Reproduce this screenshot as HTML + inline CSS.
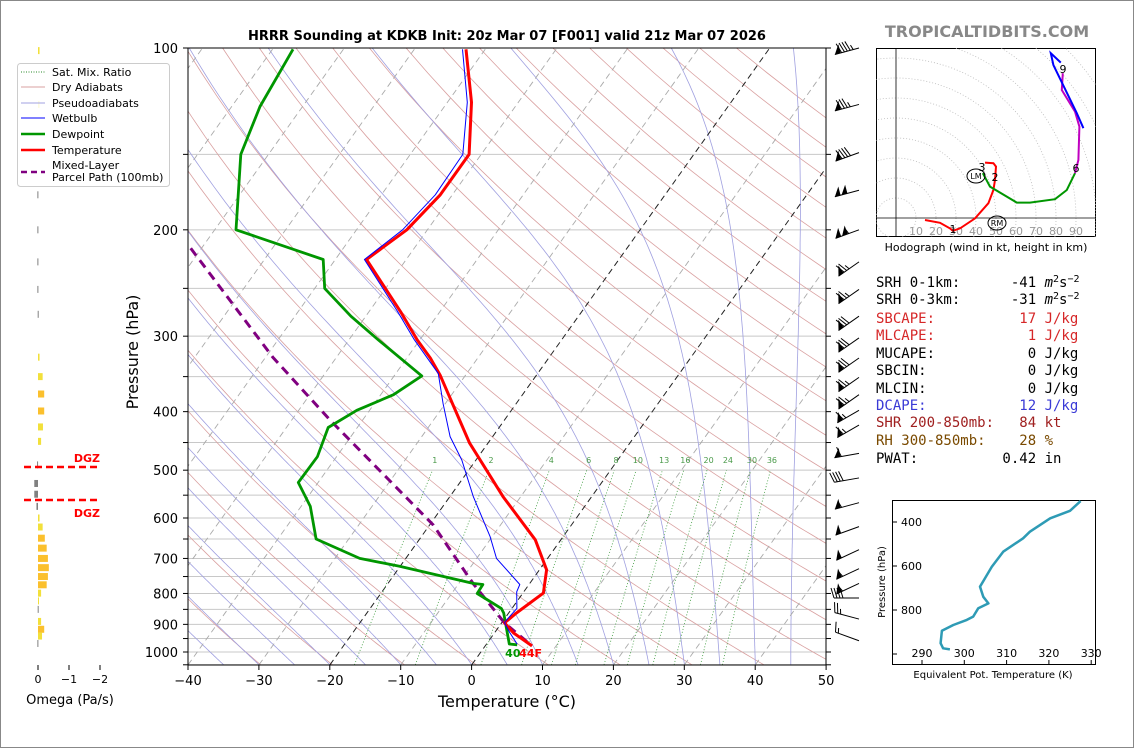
<!DOCTYPE html>
<html><head><meta charset="utf-8">
<style>
html,body{margin:0;padding:0;background:#fff;}
svg{display:block;font-family:"DejaVu Sans","Liberation Sans",sans-serif;}
.mono text{white-space:pre;}
</style></head>
<body>
<svg id="chart" xmlns="http://www.w3.org/2000/svg" width="1134" height="748" viewBox="0 0 1134 748">
<rect x="0.5" y="0.5" width="1133" height="747" fill="#fff" stroke="#888"/>
<defs>
<clipPath id="mainclip"><rect x="188" y="48" width="638" height="617"/></clipPath>
<clipPath id="hodoclip"><rect x="876" y="48" width="220" height="189"/></clipPath>
<clipPath id="eclip"><rect x="892" y="500" width="204" height="165"/></clipPath>
</defs>
<text x="507" y="40" text-anchor="middle" font-size="13" font-weight="bold">HRRR Sounding at KDKB Init: 20z Mar 07 [F001] valid 21z Mar 07 2026</text>
<text x="987" y="37" text-anchor="middle" font-size="16" font-weight="bold" fill="#888">TROPICALTIDBITS.COM</text>
<g id="bg" clip-path="url(#mainclip)"></g>
<g id="series" clip-path="url(#mainclip)"></g>
<g id="axes"></g>
<g id="barbs"></g>
<g id="omega"></g>
<g id="hodo"></g>
<g id="thetae"></g>
<text x="142" y="356" transform="rotate(-90 138 356)" text-anchor="middle" font-size="16">Pressure (hPa)</text>
<text x="507" y="707" text-anchor="middle" font-size="16">Temperature (°C)</text>
<text x="70" y="704" text-anchor="middle" font-size="13">Omega (Pa/s)</text>
<g>
<rect x="17.5" y="63.5" width="152" height="123" rx="3" fill="#fff" fill-opacity="0.85" stroke="#ccc"/>
<line x1="21" y1="72" x2="45" y2="72" stroke="#2a8a2a" stroke-dasharray="1,1.5"/>
<text x="52" y="76" font-size="11">Sat. Mix. Ratio</text>
<line x1="21" y1="87" x2="45" y2="87" stroke="#d9a0a0"/>
<text x="52" y="91" font-size="11">Dry Adiabats</text>
<line x1="21" y1="103" x2="45" y2="103" stroke="#a0a0e0"/>
<text x="52" y="107" font-size="11">Pseudoadiabats</text>
<line x1="21" y1="118" x2="45" y2="118" stroke="#0000ff"/>
<text x="52" y="122" font-size="11">Wetbulb</text>
<line x1="21" y1="134" x2="45" y2="134" stroke="#009600" stroke-width="2.5"/>
<text x="52" y="138" font-size="11">Dewpoint</text>
<line x1="21" y1="150" x2="45" y2="150" stroke="#ff0000" stroke-width="2.5"/>
<text x="52" y="154" font-size="11">Temperature</text>
<line x1="21" y1="172" x2="45" y2="172" stroke="#800080" stroke-width="2.5" stroke-dasharray="6,4"/>
<text x="52" y="169" font-size="11">Mixed-Layer</text>
<text x="52" y="181" font-size="11">Parcel Path (100mb)</text>
</g>
<g class="mono" font-family="'DejaVu Sans Mono','Liberation Mono',monospace" font-size="14">
<text x="876" y="287">SRH 0-1km:      -41 <tspan font-style="italic">m</tspan><tspan font-size="10" dy="-5">2</tspan><tspan dy="5">s</tspan><tspan font-size="10" dy="-5">−2</tspan></text>
<text x="876" y="304">SRH 0-3km:      -31 <tspan font-style="italic">m</tspan><tspan font-size="10" dy="-5">2</tspan><tspan dy="5">s</tspan><tspan font-size="10" dy="-5">−2</tspan></text>
<text x="876" y="323" fill="#d62728">SBCAPE:          17 J/kg</text>
<text x="876" y="340" fill="#d62728">MLCAPE:           1 J/kg</text>
<text x="876" y="358">MUCAPE:           0 J/kg</text>
<text x="876" y="375">SBCIN:            0 J/kg</text>
<text x="876" y="393">MLCIN:            0 J/kg</text>
<text x="876" y="410" fill="#3a3ad6">DCAPE:           12 J/kg</text>
<text x="876" y="427" fill="#a02020">SHR 200-850mb:   84 kt</text>
<text x="876" y="445" fill="#7a4a00">RH 300-850mb:    28 %</text>
<text x="876" y="463">PWAT:          0.42 in</text>
</g>
</svg>
<script>
// ---- data ----
const tempP=[100.5,123,150,175,200,224,273,304,326,348,451,553,652,731,799,862,895,930,977];
const tempT=[-62.7,-56.6,-51.7,-51.7,-52.9,-55.6,-45.6,-40.4,-36.7,-33.6,-22.6,-12.5,-3.6,1.0,2.9,1.1,0.4,2.7,6.6];
const dewP=[100.5,125,150,200,224,250,278,304,349,375,398,425,475,524,574,650,700,721,770,773,800,847,862,970,973];
const dewT=[-87.1,-86,-83.9,-77,-61.7,-58.6,-52.1,-45.9,-36.1,-38.2,-41.8,-44.1,-42.7,-42.8,-38.7,-34.6,-26.5,-20.1,-8,-6.5,-6.4,-1.5,-0.7,3.2,4.4];
const wetP=[100.5,123,150,175,200,224,273,304,346,388,440,481,553,644,700,773,795,847,885,895,930,970];
const wetT=[-63.2,-57.2,-52.6,-52.4,-53.5,-55.9,-46,-40.8,-34,-30.3,-26,-22,-16.7,-10.3,-7.2,-1.3,-1,0.7,0.4,0.4,2.2,4.3];
const parcelP=[205,325,413,616,770,895,977];
const parcelT=[-84,-59,-44.6,-19.5,-8,0.4,6.6];
const pressureTicks=[100,200,300,400,500,600,700,800,900,1000];
const tempTicks=[-40,-30,-20,-10,0,10,20,30,40,50];
const mixRatios=[1,2,4,6,8,10,13,16,20,24,30,36];
const barbP=[100,124,149,172,200,226,251,278,302,326,351,375,398,421,469,515,566,620,677,728,770,814,882,958];
const barbSpd=[95,85,90,100,105,75,75,80,80,80,75,75,65,65,60,40,55,50,50,55,55,40,25,15];
const barbDir=[255,255,250,255,250,235,235,235,235,235,235,235,240,240,260,260,255,250,245,245,245,270,285,290];
const omegaP=[101,124,175,200,226,251,276,325,350,374,399,424,448,490,526,548,574,600,621,648,673,700,725,750,774,799,823,850,890,917,941,968];
const omegaV=[-0.05,-0.05,0.02,0.02,0.02,0.02,0.01,-0.05,-0.15,-0.2,-0.2,-0.16,-0.1,0.03,0.12,0.12,0.05,-0.05,-0.15,-0.22,-0.28,-0.32,-0.35,-0.32,-0.28,-0.1,-0.03,0.01,-0.1,-0.2,-0.13,0.02];
const hodoRedU=[14.5,22,27,28.4,32,39.5,46.2,48.7,49.5,50,48.7,44.5];
const hodoRedV=[-1,-2.4,-5.2,-6.4,-5.2,-0.2,7.4,14,19,25.7,27.4,27.7];
const hodoGreenU=[43.4,47,60.4,67,79.5,85.4,89.5];
const hodoGreenV=[22.4,15.7,7.7,7.7,9.4,14,22.4];
const hodoMagU=[89.5,91.2,91.7,89.5,82.9,83.4];
const hodoMagV=[22.4,29,45.7,53.2,64,72.4];
const hodoBlueU=[93.7,90.4,78.7,77.4,82.4];
const hodoBlueV=[44.9,52.4,76.5,82.4,77.7];
const hodoTickLabels=[10,20,30,40,50,60,70,80,90];
const thetaeP=[305,349,383,444,474,535,603,656,694,740,770,792,830,845,868,894,951,974,979];
const thetaeV=[327.5,325,320.3,315.5,313.9,309.2,306.5,304.9,303.7,304.5,305.7,303.3,302.1,300.6,297.4,294.7,294.4,295,296.6];
const thetaeXTicks=[290,300,310,320,330];
const thetaeYTicks=[400,600,800];

// ---- scales ----
function yP(p){return 48+604*Math.log10(p/100);}
function xT(T,p){return 188+(T+40)*7.09+0.713*(665-yP(p));}
function hx(u){return 896+2*u;}
function hy(v){return 218-2*v;}
function ex(t){return 922+(t-290)*4.23;}
function ey(p){return 522+(p-400)*0.22;}
const NS='http://www.w3.org/2000/svg';
function mk(tag,attrs,parent){const e=document.createElementNS(NS,tag);for(const k in attrs)e.setAttribute(k,attrs[k]);parent.appendChild(e);return e;}
function pts(arr){return arr.map(a=>a[0].toFixed(1)+','+a[1].toFixed(1)).join(' ');}
const bg=document.getElementById('bg'),ser=document.getElementById('series'),ax=document.getElementById('axes');

for(let p=100;p<=1050;p+=50){
  const l=mk('line',{x1:188,x2:826,y1:yP(p),y2:yP(p),stroke:'#c8c8c8','stroke-width':1},bg);
  
  
}
for(let th=230;th<=480;th+=10){
  const a=[];for(let p=1050;p>=100;p-=10){a.push([xT(th*Math.pow(p/1000,0.286)-273.15,p),yP(p)]);}
  const l=mk('polyline',{points:pts(a),fill:'none',stroke:'#d9a0a0','stroke-width':0.8},bg);
  
  
}
for(let t0=-50;t0<=45;t0+=5){
  let T=t0+273.15;const a=[];
  for(let p=1050;p>=100;p-=5){
    a.push([xT(T-273.15,p),yP(p)]);
    const es=6.112*Math.exp(17.67*(T-273.15)/(T-29.65));const rs=0.622*es/Math.max(p-es,1);
    const dTdp=(287*T+2.5e6*rs)/(p*(1004+2.5e6*2.5e6*rs*0.622/(287*T*T)));
    T-=dTdp*5;
  }
  const l=mk('polyline',{points:pts(a),fill:'none',stroke:'#a0a0e0','stroke-width':0.8},bg);
  
  
}
for(let t=-120;t<=50;t+=10){
  const black=(t===0||t===-20);
  const l=mk('line',{x1:xT(t,1050),y1:yP(1050),x2:xT(t,100),y2:yP(100),stroke:black?'#222':'#aaa','stroke-width':black?1:0.9,'stroke-dasharray':'6,4'},bg);
  
  
}
function tdFromW(w,p){const e=w*p/(622+w);const g=Math.log(e/6.112);return 243.5*g/(17.67-g);}
mixRatios.forEach(w=>{
  const a=[];for(let p=1050;p>=500;p-=10)a.push([xT(tdFromW(w,p),p),yP(p)]);
  const l=mk('polyline',{points:pts(a),fill:'none',stroke:'#3a9a3a','stroke-width':0.8,'stroke-dasharray':'1,2'},bg);
  
  
  const tx=mk('text',{x:xT(tdFromW(w,490),490),y:yP(490)-2,'font-size':8,fill:'#4a9a4a','text-anchor':'middle'},bg);
  tx.textContent=w;
  
  
});
function series(P,T,color,width,dash,name){
  const a=P.map((p,i)=>[xT(T[i],p),yP(p)]);
  const l=mk('polyline',{points:pts(a),fill:'none',stroke:color,'stroke-width':width,'stroke-linejoin':'round'},ser);
  if(dash)l.setAttribute('stroke-dasharray',dash);
  
  
}
series(parcelP,parcelT,'#800080',3,'9,6','parcel-path-line');
series(dewP,dewT,'#009600',2.8,null,'dewpoint-line');
series(tempP,tempT,'#ff0000',3,null,'temperature-line');
series(wetP,wetT,'#0000ff',1,null,'wetbulb-line');
{
  const tf=mk('text',{x:xT(dewT[dewT.length-1],dewP[dewP.length-1])-12,y:yP(1000)+5,'font-size':11,'font-weight':'bold',fill:'#009600'},ax);
  tf.textContent='40';
  
  
  const tt=mk('text',{x:xT(dewT[dewT.length-1],dewP[dewP.length-1])+2,y:yP(1000)+5,'font-size':11,'font-weight':'bold',fill:'#ff0000'},ax);
  tt.textContent='44F';
  
  
}
{
  const f=mk('rect',{x:188,y:48,width:638,height:617,fill:'none',stroke:'#000','stroke-width':1},ax);
  
  
}
for(let p=100;p<=1050;p+=50){
  const t=mk('line',{x1:183,x2:188,y1:yP(p),y2:yP(p),stroke:'#000'},ax);
  
  
  const t2=mk('line',{x1:826,x2:831,y1:yP(p),y2:yP(p),stroke:'#000'},ax);
  
  
}
pressureTicks.forEach(p=>{
  const t=mk('text',{x:178,y:yP(p)+5,'font-size':13,'text-anchor':'end'},ax);
  t.textContent=p;
  
  
});
tempTicks.forEach(T=>{
  const x=188+(T+40)*7.09;
  const l=mk('line',{x1:x,x2:x,y1:665,y2:670,stroke:'#000'},ax);
  
  
  const t=mk('text',{x:x,y:685,'font-size':13,'text-anchor':'middle'},ax);
  t.textContent=(T<0?'−'+(-T):T);
  
  
});
const bgp=document.getElementById('barbs');
barbP.forEach((p,i)=>{
  const sx=859,sy=yP(p),L=25,d=barbDir[i]*Math.PI/180;
  const ux=Math.sin(d),uy=-Math.cos(d),px=-uy,py=ux;
  const tx=sx+L*ux,ty=sy+L*uy;
  const g=mk('g',{},bgp);
  
  
  mk('line',{x1:sx,y1:sy,x2:tx,y2:ty,stroke:'#000','stroke-width':1},g);
  let s=Math.round(barbSpd[i]/5)*5,pos=0;
  while(s>=50){
    const a=[[tx-ux*pos,ty-uy*pos],[tx-ux*(pos+6)+px*9,ty-uy*(pos+6)+py*9],[tx-ux*(pos+6),ty-uy*(pos+6)]];
    mk('polygon',{points:pts(a),fill:'#000'},g);pos+=7;s-=50;
  }
  while(s>=10){
    mk('line',{x1:tx-ux*pos,y1:ty-uy*pos,x2:tx-ux*(pos-3)+px*10,y2:ty-uy*(pos-3)+py*10,stroke:'#000','stroke-width':1},g);pos+=3;s-=10;
  }
  if(s>=5){if(pos===0)pos=3;
    mk('line',{x1:tx-ux*pos,y1:ty-uy*pos,x2:tx-ux*(pos-1.5)+px*5,y2:ty-uy*(pos-1.5)+py*5,stroke:'#000','stroke-width':1},g);}
});
const om=document.getElementById('omega');
omegaP.forEach((p,i)=>{
  const v=omegaV[i],x0=38,x1=38-v*31;
  const col=v>0?'#808080':(v<=-0.2?'#fbc02d':'#f2e03b');
  const r=mk('rect',{x:Math.min(x0,x1),y:yP(p)-3.5,width:Math.max(Math.abs(x1-x0),1),height:7,fill:col},om);
  
  
});
[0,-1,-2].forEach(v=>{
  const x=38-v*31;
  const l=mk('line',{x1:x,x2:x,y1:665,y2:670,stroke:'#000'},om);
  
  
  const t=mk('text',{x:x,y:683,'font-size':11,'text-anchor':'middle'},om);
  t.textContent=v===0?'0':'−'+(-v);
  
  
});
[[467,459],[500,514]].forEach((d,i)=>{
  const l=mk('line',{x1:24,x2:98,y1:d[0],y2:d[0],stroke:'#ff0000','stroke-width':2.5,'stroke-dasharray':'7,4'},om);
  
  
  const t=mk('text',{x:100,y:d[1]+3,'font-size':11,'font-weight':'bold',fill:'#ff0000','text-anchor':'end'},om);
  t.textContent='DGZ';
  
  
});
const ho=document.getElementById('hodo');
{
  const b=mk('rect',{x:876.5,y:48.5,width:219,height:188,fill:'#fff',stroke:'#000'},ho);
  
  
  const cg=mk('g',{'clip-path':'url(#hodoclip)'},ho);
  
  
  for(let r=10;r<=120;r+=10){
    const c=mk('circle',{cx:hx(0),cy:hy(0),r:2*r,fill:'none',stroke:'#bbb','stroke-width':0.8,'stroke-dasharray':'1,2'},cg);
    
    
  }
  const a1=mk('line',{x1:876,x2:1096,y1:hy(0),y2:hy(0),stroke:'#000','stroke-width':0.8},cg);
  
  
  const a2=mk('line',{x1:hx(0),x2:hx(0),y1:48,y2:237,stroke:'#000','stroke-width':0.8},cg);
  
  
  hodoTickLabels.forEach(k=>{
    const t=mk('text',{x:hx(k),y:hy(0)+17,'font-size':11,fill:'#999','text-anchor':'middle'},cg);
    t.textContent=k;
    
    
  });
  function hl(U,V,c,n){
    const l=mk('polyline',{points:pts(U.map((u,i)=>[hx(u),hy(V[i])])),fill:'none',stroke:c,'stroke-width':2},cg);
    
    
  }
  hl(hodoRedU,hodoRedV,'#ff0000','hodograph-0-3km');
  hl(hodoGreenU,hodoGreenV,'#009600','hodograph-3-6km');
  hl(hodoMagU,hodoMagV,'#c000c0','hodograph-6-9km');
  hl(hodoBlueU,hodoBlueV,'#0000ff','hodograph-9km-plus');
  [['1',953,233],['2',995,181],['3',982,171],['6',1076,172],['9',1063,73]].forEach(d=>{
    const t=mk('text',{x:d[1],y:d[2],'font-size':11,'text-anchor':'middle'},cg);
    t.textContent=d[0];
    
    
  });
  [['LM',976,176],['RM',997,223]].forEach(d=>{
    const e=mk('ellipse',{cx:d[1],cy:d[2],rx:9,ry:7,fill:'none',stroke:'#000'},cg);
    
    
    const t=mk('text',{x:d[1],y:d[2]+3,'font-size':8,'text-anchor':'middle'},cg);
    t.textContent=d[0];
    
    
  });
  const cap=mk('text',{x:986,y:251,'font-size':11,'text-anchor':'middle'},ho);
  cap.textContent='Hodograph (wind in kt, height in km)';
  
  
}
const te=document.getElementById('thetae');
{
  const b=mk('rect',{x:892.5,y:500.5,width:203,height:164,fill:'#fff',stroke:'#000'},te);
  
  
  const cg=mk('g',{'clip-path':'url(#eclip)'},te);
  
  
  const l=mk('polyline',{points:pts(thetaeP.map((p,i)=>[ex(thetaeV[i]),ey(p)])),fill:'none',stroke:'#2e9bb5','stroke-width':2.5,'stroke-linejoin':'round'},cg);
  
  
  thetaeXTicks.forEach(t=>{
    const tk=mk('line',{x1:ex(t),x2:ex(t),y1:665,y2:660,stroke:'#000'},te);
    
    
    const tx=mk('text',{x:ex(t),y:657,'font-size':11,'text-anchor':'middle'},te);
    tx.textContent=t;
    
    
  });
  [400,600,800,1000].forEach(p=>{
    const tk=mk('line',{x1:892,x2:897,y1:ey(p),y2:ey(p),stroke:'#000'},te);
    
    
  });
  thetaeYTicks.forEach(p=>{
    const tx=mk('text',{x:922,y:ey(p)+4,'font-size':11,'text-anchor':'end'},te);
    tx.textContent=p;
    
    
  });
  const yl=mk('text',{x:885,y:582,'font-size':10,'text-anchor':'middle',transform:'rotate(-90 885 582)'},te);
  yl.textContent='Pressure (hPa)';
  
  
  const xl=mk('text',{x:993,y:678,'font-size':10,'text-anchor':'middle'},te);
  xl.textContent='Equivalent Pot. Temperature (K)';
  
  
}
</script>
</body></html>
